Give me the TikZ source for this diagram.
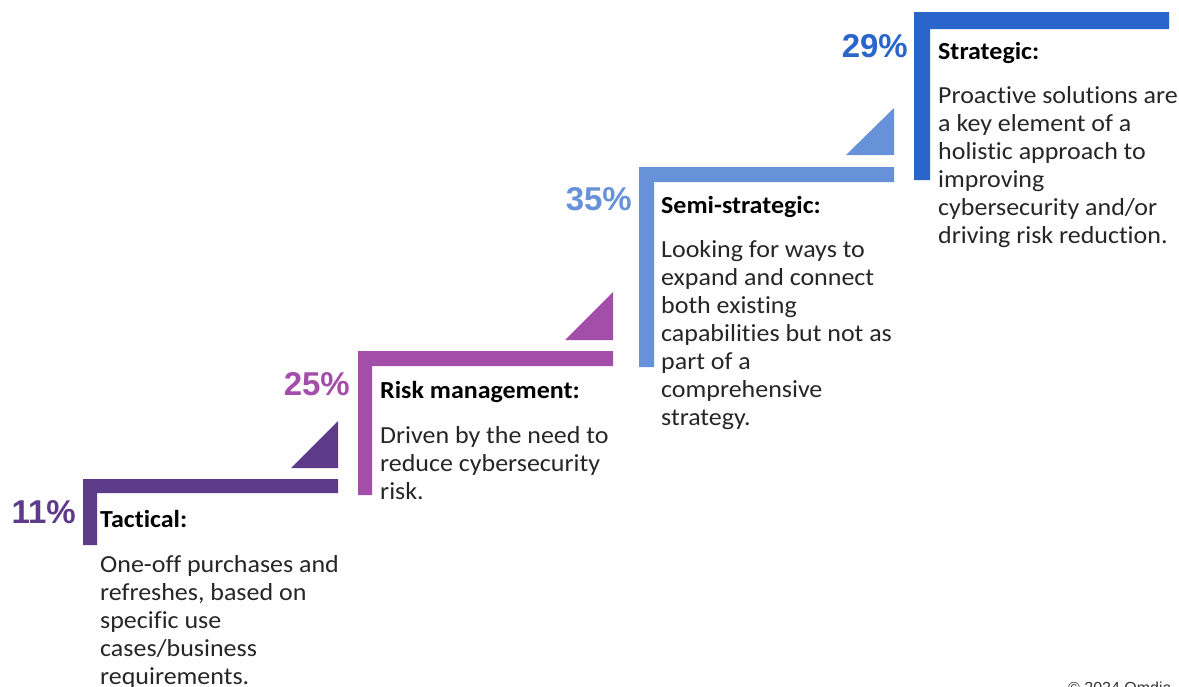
\documentclass[tikz,border=0pt]{standalone}
\usepackage{fontspec}
\setmainfont{Carlito}[FakeStretch=1.06,Ligatures={NoCommon}]
\newfontfamily\pctfont{Liberation Sans}
\begin{document}
\begin{tikzpicture}[x=1pt,y=-1pt,
  heading/.style={anchor=base west,inner sep=0pt,font=\fontsize{24.5}{28}\selectfont\bfseries,text=black},
  bodyline/.style={anchor=base west,inner sep=0pt,font=\fontsize{24.5}{28}\selectfont,text=black!85},
  pct/.style={anchor=base east,inner sep=0pt,font=\pctfont\fontsize{33}{36}\selectfont\bfseries}]
\definecolor{stepA}{HTML}{5E3A8A}
\definecolor{stepB}{HTML}{A34FA9}
\definecolor{stepC}{HTML}{6792DA}
\definecolor{stepD}{HTML}{2A65CC}
\clip (0,0) rectangle (1179,686);
\fill[white] (0,0) rectangle (1179,686);

% step brackets: top bar plus left post
\fill[stepA] (83,479) -- (338,479) -- (338,493) -- (97,493) -- (97,545) -- (83,545) -- cycle;
\fill[stepB] (358,351) -- (613,351) -- (613,366) -- (372,366) -- (372,495) -- (358,495) -- cycle;
\fill[stepC] (639,167) -- (894,167) -- (894,182) -- (654,182) -- (654,367) -- (639,367) -- cycle;
\fill[stepD] (914,12) -- (1169,12) -- (1169,29) -- (930,29) -- (930,180) -- (914,180) -- cycle;

% rising wedges above each bar
\fill[stepA] (291,468) -- (338,468) -- (338,421) -- cycle;
\fill[stepB] (565,340) -- (613,340) -- (613,292) -- cycle;
\fill[stepC] (846,155) -- (894,155) -- (894,108) -- cycle;

% shares
\node[pct,text=stepA] (p1) at (76,523) {11\%};
\node[pct,text=stepB] (p2) at (350,395) {25\%};
\node[pct,text=stepC] (p3) at (632,210) {35\%};
\node[pct,text=stepD] (p4) at (908,57) {29\%};

% Tactical
\node[heading] (h1) at (100,527) {Tactical:};
\foreach \t [count=\i from 0] in {One-off purchases and,{refreshes, based on},specific use,cases/business,requirements.}
  \node[bodyline] (b1-\i) at (100,572+28*\i) {\t};

% Risk management
\node[heading] (h2) at (380,398) {Risk management:};
\foreach \t [count=\i from 0] in {Driven by the need to,reduce cybersecurity,risk.}
  \node[bodyline] (b2-\i) at (380,443+28*\i) {\t};

% Semi-strategic
\node[heading] (h3) at (661,213) {Semi-strategic:};
\foreach \t [count=\i from 0] in {Looking for ways to,expand and connect,both existing,capabilities but not as,part of a,comprehensive,strategy.}
  \node[bodyline] (b3-\i) at (661,257+28*\i) {\t};

% Strategic
\node[heading] (h4) at (938,59) {Strategic:};
\foreach \t [count=\i from 0] in {Proactive solutions are,a key element of a,holistic approach to,improving,cybersecurity and/or,driving risk reduction.}
  \node[bodyline] (b4-\i) at (938,103+28*\i) {\t};

% footer
\node[anchor=base west,inner sep=0pt,font=\pctfont\fontsize{16}{18}\selectfont,text=black!80] (copy) at (1068,693) {© 2024 Omdia};
\end{tikzpicture}
\end{document}
